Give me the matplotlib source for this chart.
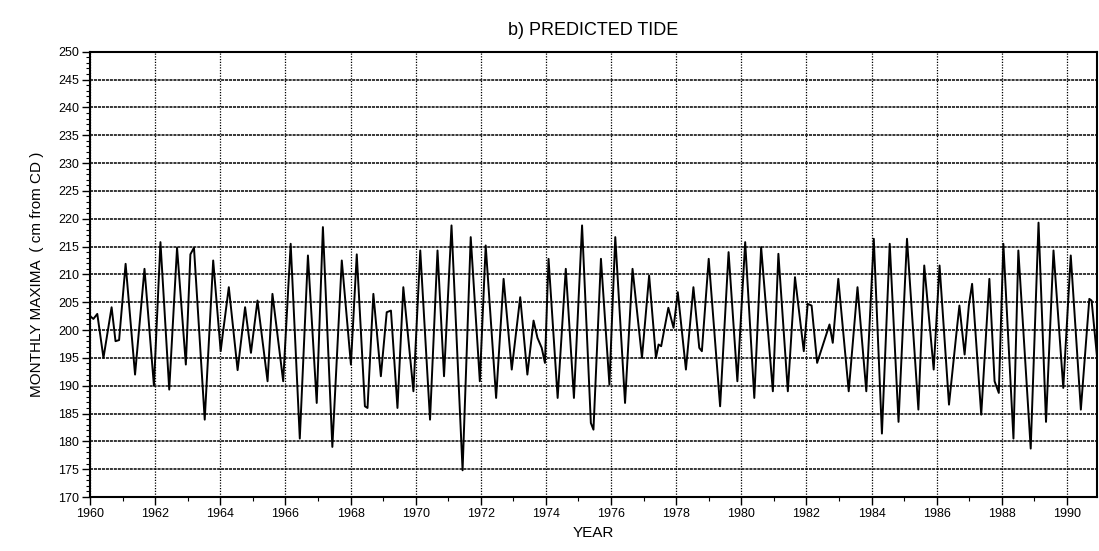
import matplotlib
matplotlib.use("Agg")
import matplotlib.pyplot as plt
from matplotlib.ticker import MultipleLocator

# Turning points of the predicted monthly maxima curve (decimal year, cm from CD)
t_years = [
    1960.00, 1960.10, 1960.22, 1960.41, 1960.66, 1960.78, 1960.89, 1961.09, 1961.38, 1961.67,
    1961.96, 1962.16, 1962.43, 1962.67, 1962.94, 1963.08, 1963.19, 1963.52, 1963.78, 1964.01,
    1964.06, 1964.26, 1964.53, 1964.76, 1964.94, 1965.14, 1965.45, 1965.60, 1965.93, 1966.16,
    1966.44, 1966.69, 1966.96, 1967.15, 1967.44, 1967.73, 1968.01, 1968.19, 1968.44, 1968.52,
    1968.70, 1968.93, 1969.11, 1969.24, 1969.44, 1969.62, 1969.93, 1970.14, 1970.44, 1970.67,
    1970.87, 1971.10, 1971.44, 1971.69, 1971.97, 1972.15, 1972.47, 1972.70, 1972.95, 1973.21,
    1973.43, 1973.62, 1973.74, 1973.87, 1973.97, 1974.08, 1974.36, 1974.61, 1974.86, 1975.11,
    1975.38, 1975.46, 1975.69, 1975.95, 1976.13, 1976.43, 1976.66, 1976.95, 1977.17, 1977.38,
    1977.46, 1977.54, 1977.76, 1977.92, 1978.05, 1978.30, 1978.53, 1978.71, 1978.79, 1979.00,
    1979.35, 1979.61, 1979.88, 1980.12, 1980.40, 1980.61, 1980.97, 1981.14, 1981.43, 1981.65,
    1981.92, 1982.04, 1982.16, 1982.33, 1982.71, 1982.81, 1982.98, 1983.30, 1983.57, 1983.84,
    1984.07, 1984.32, 1984.56, 1984.83, 1985.09, 1985.44, 1985.62, 1985.91, 1986.09, 1986.38,
    1986.62, 1986.70, 1986.86, 1986.99, 1987.09, 1987.37, 1987.62, 1987.78, 1987.91, 1988.05,
    1988.36, 1988.51, 1988.89, 1989.13, 1989.36, 1989.59, 1989.89, 1990.12, 1990.43, 1990.69,
    1990.76, 1990.92,
]
maxima_cm = [
    202.5, 202.0, 202.9, 195.0, 204.1, 198.0, 198.2, 211.9, 192.0, 211.0,
    190.0, 215.8, 189.3, 214.8, 193.8, 213.6, 214.8, 183.9, 212.5, 196.2,
    198.6, 207.7, 192.8, 204.1, 195.9, 205.3, 190.8, 206.5, 190.8, 215.5,
    180.5, 213.4, 186.9, 218.5, 179.0, 212.5, 193.8, 213.6, 186.3, 186.0,
    206.5, 191.7, 203.2, 203.5, 186.0, 207.7, 189.0, 214.3, 183.9, 214.3,
    191.7, 218.8, 174.8, 216.7, 190.8, 215.2, 187.8, 209.2, 192.9, 205.9,
    192.0, 201.7, 198.6, 196.8, 194.1, 212.8, 187.8, 211.0, 187.8, 218.8,
    183.3, 182.1, 212.8, 190.2, 216.7, 186.9, 211.0, 195.0, 209.8, 195.0,
    197.4, 197.1, 204.0, 200.4, 206.8, 192.9, 207.7, 196.8, 196.2, 212.8,
    186.3, 214.0, 190.8, 215.8, 187.8, 214.9, 189.0, 213.7, 189.0, 209.5,
    196.2, 204.7, 204.4, 194.1, 201.0, 197.7, 209.2, 189.0, 207.7, 189.0,
    216.4, 181.4, 215.5, 183.5, 216.4, 185.7, 211.6, 192.9, 211.6, 186.6,
    200.1, 204.4, 195.6, 204.4, 208.3, 184.8, 209.2, 190.8, 188.7, 215.5,
    180.5, 214.3, 178.7, 219.3, 183.5, 214.3, 189.6, 213.4, 185.7, 205.6,
    205.3, 195.6,
]

year_ticks = list(range(1960, 1991, 2))
level_ticks = list(range(170, 251, 5))

plt.rcParams['font.family'] = ['Liberation Sans', 'DejaVu Sans']

fig = plt.figure(figsize=(10.99, 5.51), dpi=100)
ax = fig.add_axes([0.082, 0.098, 0.916, 0.808])

ax.plot(t_years, maxima_cm, color='black', linewidth=1.4, zorder=3)

ax.set_xlim(1960, 1990.92)
ax.set_ylim(170, 250)
ax.set_xticks(year_ticks)
ax.set_xticklabels([str(y) for y in year_ticks], fontsize=9)
ax.set_yticks(level_ticks)
ax.set_yticklabels([str(v) for v in level_ticks], fontsize=9)
ax.xaxis.set_minor_locator(MultipleLocator(1))
ax.yaxis.set_minor_locator(MultipleLocator(1))
ax.tick_params(axis='both', which='major', direction='out', length=6, width=1.0, pad=2)
ax.tick_params(axis='both', which='minor', direction='out', length=3, width=0.8)

ax.grid(True, axis='y', which='major', color='black', linewidth=1.1, linestyle=(0, (2, 0.6)))
ax.grid(True, axis='x', which='major', color='black', linewidth=0.9, linestyle=(0, (1, 1.2)))

for s in ax.spines.values():
    s.set_linewidth(1.5)

ax.set_title('b) PREDICTED TIDE', fontsize=13, pad=12)
ax.set_xlabel('YEAR', fontsize=11, labelpad=4)
ax.set_ylabel('MONTHLY MAXIMA  ( cm from CD )', fontsize=11, labelpad=10)

fig.savefig('out.png', dpi=100)
